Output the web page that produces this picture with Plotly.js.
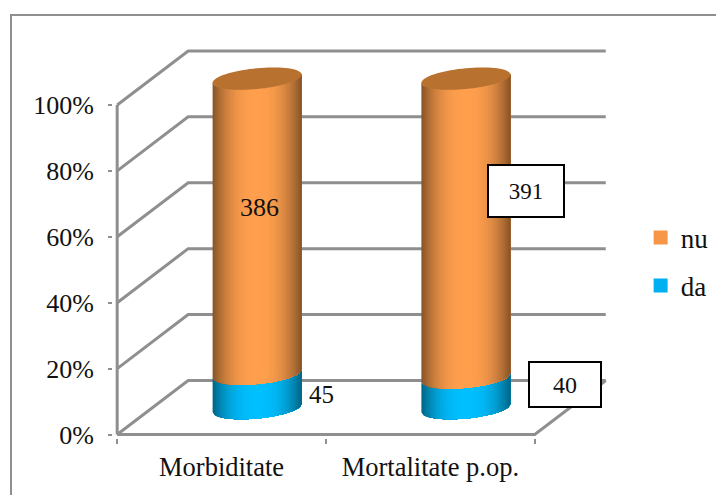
<!DOCTYPE html>
<html>
<head>
<meta charset="utf-8">
<script src="https://cdn.plot.ly/plotly-3.0.1.min.js"></script>
<style>html,body{margin:0;padding:0;background:#fff}#chart{width:716px;height:495px}</style>
</head>
<body>
<div id="chart"></div>
<script>
// Chart data
const categories = ["Morbiditate", "Mortalitate p.op."];
const nuCounts = [386, 391];
const daCounts = [45, 40];
const percentTicks = [0, 20, 40, 60, 80, 100];
const seriesNames = ["nu", "da"];

// Pseudo-3D projection, in axis units
const DEPTH_X = 0.34, DEPTH_Y = 16.4;
const BASE_LIFT = 8, RADIUS_X = 0.213, RADIUS_Y = 3.15, TILT = 1.25;
const STRIPS = 48;
const GRID = "#8f8f8f";
const SERIF = '"Liberation Serif","Times New Roman",serif';
const ORANGE = [255, 159, 77], BLUE = [0, 191, 255];

const traces = [];

function wallLine(x, y) {
  traces.push({x, y, mode: "lines", line: {color: GRID, width: 3}, showlegend: false, hoverinfo: "skip"});
}

// Walls and floor of the box
percentTicks.forEach(p => {
  wallLine([0, DEPTH_X, 2 + DEPTH_X], [p, p + DEPTH_Y, p + DEPTH_Y]);
});
wallLine([0, 0], [0, 100]);
wallLine([0, 2, 2 + DEPTH_X], [0, 0, DEPTH_Y]);

function shade(rgb, u) {
  const f = 0.52 + 0.48 * (1 - Math.pow(Math.abs(u), 2.4));
  return "rgb(" + rgb.map(c => Math.round(c * f)).join(",") + ")";
}

// Cylinder wall between two stack levels. Each shaded layer runs from its own
// left edge to the right side and is covered by the next one, so no seams show.
function cylinderSide(cx, from, to, rgb) {
  const edge = (u, level) => level + BASE_LIFT - RADIUS_Y * Math.sqrt(Math.max(0, 1 - u * u)) + TILT * u;
  for (let i = 0; i < STRIPS; i++) {
    const us = [];
    for (let j = i; j <= STRIPS; j++) us.push(-1 + 2 * j / STRIPS);
    const back = us.slice().reverse();
    const um = -1 + (2 * i + 1) / STRIPS;
    traces.push({
      x: us.concat(back, [us[0]]).map(u => cx + RADIUS_X * u),
      y: us.map(u => edge(u, from)).concat(back.map(u => edge(u, to)), [edge(us[0], from)]),
      mode: "none", fill: "toself", fillcolor: shade(rgb, um),
      showlegend: false, hoverinfo: "skip"
    });
  }
}

function cylinderCap(cx, level, color) {
  const xs = [], ys = [];
  for (let i = 0; i <= 72; i++) {
    const t = 2 * Math.PI * i / 72;
    xs.push(cx + RADIUS_X * Math.cos(t));
    ys.push(level + BASE_LIFT + RADIUS_Y * Math.sin(t) + TILT * Math.cos(t));
  }
  traces.push({x: xs, y: ys, mode: "none", fill: "toself", fillcolor: color,
    showlegend: false, hoverinfo: "skip"});
}

categories.forEach((_, i) => {
  const total = nuCounts[i] + daCounts[i];
  const daShare = 100 * daCounts[i] / total;
  const cx = i + 0.5 + DEPTH_X / 2;
  cylinderSide(cx, 0, daShare, BLUE);
  cylinderSide(cx, daShare, 100, ORANGE);
  cylinderCap(cx, 100, "#b8712f");
});

// Legend swatches
["#f79646", "#00b0f0"].forEach((color, k) => {
  const name = seriesNames[k];
  traces.push({x: [null], y: [null], name, legendgroup: name, mode: "markers",
    marker: {symbol: "square", size: 14, color}, hoverinfo: "skip"});
});

const labelFont = size => ({family: SERIF, size, color: "#111"});
const boxed = {bgcolor: "#fff", bordercolor: "#000", borderwidth: 2, borderpad: 0};

const layout = {
  width: 716, height: 495, autosize: false,
  margin: {l: 113, r: 0, t: 46, b: 57, pad: 0},
  paper_bgcolor: "#fff", plot_bgcolor: "rgba(0,0,0,0)",
  font: {family: SERIF, size: 26, color: "#111"},
  xaxis: {
    range: [-0.02, 2.868], showgrid: false, zeroline: false, showline: false, fixedrange: true,
    tickmode: "array", tickvals: [0.5, 1.5], ticktext: categories, ticks: "", ticklabelstandoff: 10,
    tickfont: labelFont(26.5),
    minor: {tickmode: "array", tickvals: [0, 1, 2], ticks: "outside", ticklen: 5, tickwidth: 2, tickcolor: GRID, showgrid: false}
  },
  yaxis: {
    range: [-1.06, 117.9], showgrid: false, zeroline: false, showline: false, fixedrange: true,
    tickmode: "array", tickvals: percentTicks, ticktext: percentTicks.map(p => p + "%"),
    ticks: "outside", ticklen: 4, tickwidth: 2, tickcolor: GRID, ticklabelstandoff: 9,
    tickfont: labelFont(26)
  },
  legend: {
    x: 0.875, xanchor: "left", y: 0.573, yanchor: "top", tracegroupgap: 10,
    font: labelFont(27), itemwidth: 30, bgcolor: "rgba(0,0,0,0)"
  },
  shapes: [{
    type: "rect", xref: "paper", yref: "paper", layer: "below",
    x0: (11 - 113) / 603, x1: (730 - 113) / 603, y0: (438 - 510) / 392, y1: (438 - 15) / 392,
    line: {color: GRID, width: 2}, fillcolor: "rgba(0,0,0,0)"
  }],
  annotations: [
    {x: 0.683, y: 68.8, text: String(nuCounts[0]), showarrow: false, font: labelFont(26)},
    {x: 0.98, y: 12, text: String(daCounts[0]), showarrow: false, font: labelFont(25)},
    {x: 1.958, y: 73.8, text: String(nuCounts[1]), showarrow: false, font: labelFont(23), width: 74, height: 50, ...boxed},
    {x: 2.146, y: 15.3, text: String(daCounts[1]), showarrow: false, font: labelFont(24), width: 70, height: 43, ...boxed}
  ]
};

Plotly.newPlot("chart", traces, layout, {displayModeBar: false, staticPlot: true});
</script>
</body>
</html>
